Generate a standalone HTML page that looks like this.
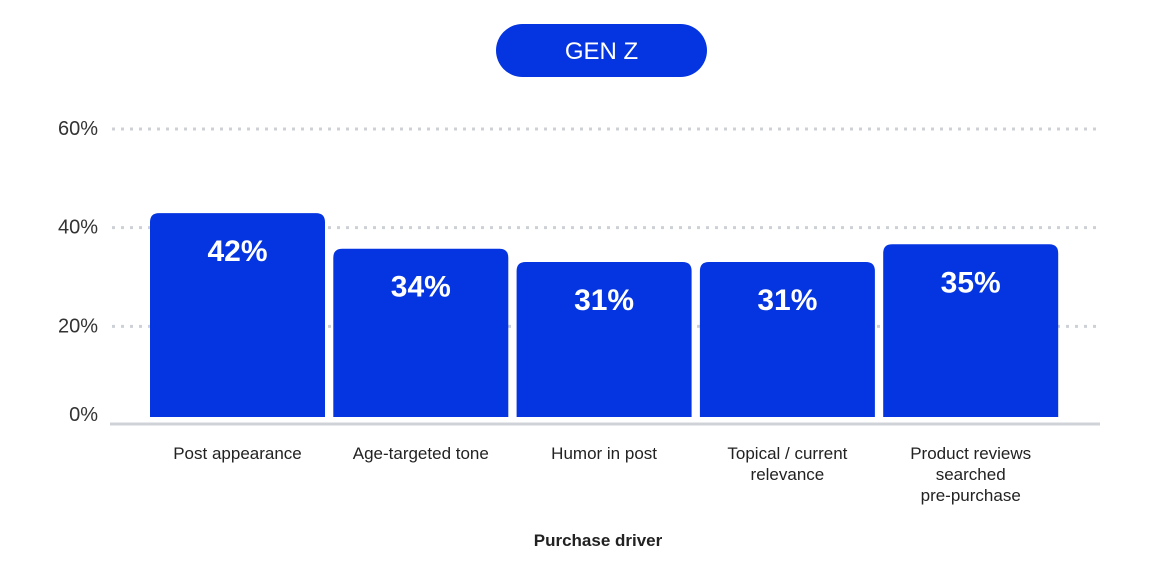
<!DOCTYPE html>
<html><head><meta charset="utf-8"><style>
html,body{margin:0;padding:0;background:#fff;width:1176px;height:574px;overflow:hidden;font-family:"Liberation Sans",sans-serif}
</style></head><body>
<svg id="chart" width="1176" height="574" xmlns="http://www.w3.org/2000/svg">
<rect x="496" y="24" width="211" height="53" rx="26.5" fill="#0535e0"/>
<text x="601.5" y="59" text-anchor="middle" font-size="24" fill="#fff" font-family="Liberation Sans, sans-serif">GEN Z</text>
<g id="grid"></g><g id="bars"></g><g id="xlabels"></g>
<line x1="110" y1="424" x2="1100" y2="424" stroke="#cfd3d8" stroke-width="3"/>
<text x="598" y="546" text-anchor="middle" font-size="17" font-weight="bold" fill="#222">Purchase driver</text>
</svg>
<script>
const categories=[["Post appearance"],["Age-targeted tone"],["Humor in post"],["Topical / current","relevance"],["Product reviews","searched","pre-purchase"]];
const values=[42,34,31,31,35];
const ticks=[0,20,40,60];
const tickLabels=["0%","20%","40%","60%"];
const NS="http://www.w3.org/2000/svg";
function gridY(v){return 424-v/60*296;}
function barY(v){return 400-v*4.45;}
function xPos(i){return 150+i*183.3;}
const bw=175;
function mk(t,a,p){const e=document.createElementNS(NS,t);for(const k in a)e.setAttribute(k,a[k]);p.appendChild(e);return e;}
const grid=document.getElementById('grid'),bars=document.getElementById('bars'),xl=document.getElementById('xlabels');
ticks.forEach((t,i)=>{
 const y=gridY(t);
 if(t>0){const l=mk('line',{x1:112,y1:y+1,x2:1100,y2:y+1,stroke:'#cdd1d6','stroke-width':3,'stroke-dasharray':'3 6','stroke-linecap':'butt'},grid);
 
 }
 const tx=mk('text',{x:98,y:(t===0?y-3:y+7),'text-anchor':'end','font-size':20,fill:'#333'},grid);
 tx.textContent=tickLabels[i];
 
 
});
values.forEach((v,i)=>{
 const x=xPos(i),y=barY(v),r=9;
 const p=mk('path',{d:`M${x},417V${y+r}Q${x},${y} ${x+r},${y}H${x+bw-r}Q${x+bw},${y} ${x+bw},${y+r}V417Z`,fill:'#0535e0'},bars);
 
 
 const t=mk('text',{x:x+bw/2,y:y+48,'text-anchor':'middle','font-size':30,'font-weight':'bold',fill:'#fff'},bars);
 t.textContent=v+'%';
 
 
 const g=mk('text',{'text-anchor':'middle','font-size':17,fill:'#222'},xl);
 
 
 categories[i].forEach((line,j)=>{const s=mk('tspan',{x:x+bw/2,y:459+j*21},g);s.textContent=line;});
});
</script>
</body></html>
